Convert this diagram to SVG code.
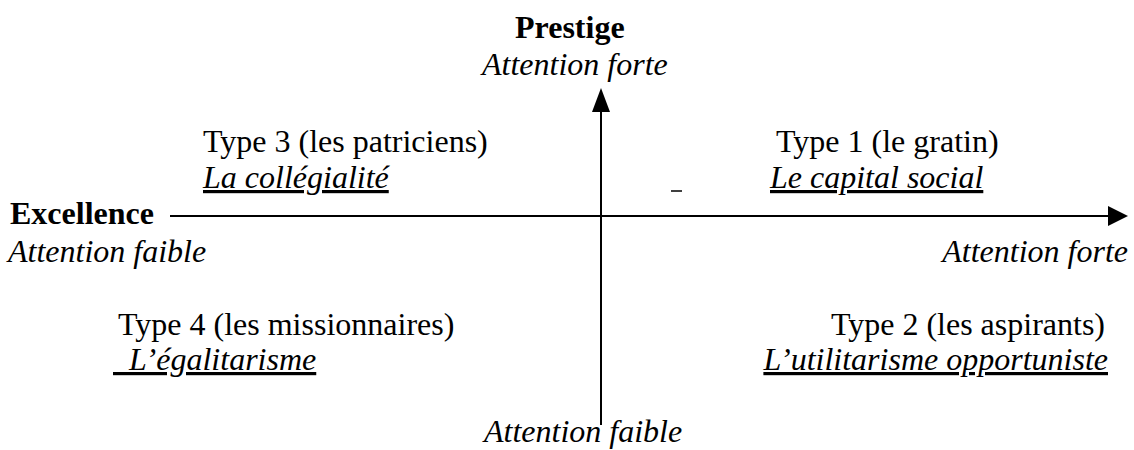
<svg xmlns="http://www.w3.org/2000/svg" width="1134" height="450" viewBox="0 0 1134 450">
<style>
text{font-family:"Liberation Serif","Times New Roman",serif;font-size:32px;fill:#000}
.b{font-weight:bold}
.i{font-style:italic}
.u{text-decoration:underline}
.ax{stroke:#000;stroke-width:2;fill:none}
</style>
<rect width="1134" height="450" fill="#fff"/>
<g id="connectors">
<line class="ax" x1="601" y1="425" x2="601" y2="110"/>
<path d="M601,88 L610,112 L592,112 Z" fill="#000"/>
<line class="ax" x1="170" y1="216" x2="1108" y2="216"/>
<path d="M1128,216 L1108,206 L1108,226 Z" fill="#000"/>
</g>
<g id="axis-top">
<text class="b" x="515" y="38">Prestige</text>
<text class="i" x="482" y="75">Attention forte</text>
</g>
<g id="axis-left">
<text class="b" x="10" y="224">Excellence</text>
<text class="i" x="8" y="262">Attention faible</text>
</g>
<g id="axis-right">
<text class="i" x="1128" y="262" text-anchor="end">Attention forte</text>
</g>
<g id="axis-bottom">
<text class="i" x="484" y="442">Attention faible</text>
</g>
<g id="type3">
<text x="203" y="152">Type 3 (les patriciens)</text>
<text class="i u" x="203" y="188">La collégialité</text>
</g>
<g id="type1">
<text x="776" y="152">Type 1 (le gratin)</text>
<line x1="671" y1="191" x2="682" y2="191" stroke="#000" stroke-width="1.5"/>
<text class="i u" x="770" y="188">Le capital social</text>
</g>
<g id="type4">
<text x="118" y="335">Type 4 (les missionnaires)</text>
<text class="i u" x="113" y="370" xml:space="preserve">  L’égalitarisme</text>
</g>
<g id="type2">
<text x="1105" y="335" text-anchor="end">Type 2 (les aspirants)</text>
<text class="i u" x="1108" y="370" text-anchor="end">L’utilitarisme opportuniste</text>
</g>
</svg>
